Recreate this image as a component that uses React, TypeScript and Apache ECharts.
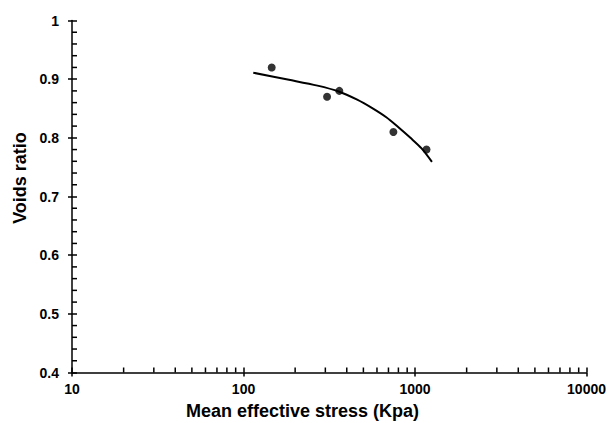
import React, { useEffect, useRef } from "react";
import * as echarts from "echarts";

// Measured points (mean effective stress kPa, voids ratio)
const stress = [146, 307, 362, 748, 1167];
const voids = [0.92, 0.87, 0.88, 0.81, 0.78];

// Fitted curve
const curveStress = [114, 184, 270, 359, 460, 560, 680, 800, 940, 1092, 1255];
const curveVoids = [0.911, 0.899, 0.889, 0.879, 0.865, 0.851, 0.835, 0.818, 0.8, 0.782, 0.759];

// Log-axis minor tick values
const xMinorTicks = [
  20, 30, 40, 50, 60, 70, 80, 90,
  200, 300, 400, 500, 600, 700, 800, 900,
  2000, 3000, 4000, 5000, 6000, 7000, 8000, 9000,
];
const yMinorTicks = [
  0.42, 0.44, 0.46, 0.48, 0.52, 0.54, 0.56, 0.58, 0.62, 0.64, 0.66, 0.68,
  0.72, 0.74, 0.76, 0.78, 0.82, 0.84, 0.86, 0.88, 0.92, 0.94, 0.96, 0.98,
];

const xTitle = "Mean effective stress (Kpa)";
const yTitle = "Voids ratio";

const FONT = "'Liberation Sans', Arial, sans-serif";

export default function App() {
  const ref = useRef<HTMLDivElement>(null);

  useEffect(() => {
    if (!ref.current) return;
    const chart = echarts.init(ref.current, undefined, { renderer: "svg" });
    const axisLine = { show: true, lineStyle: { color: "#000", width: 1.5 } };
    const label = {
      color: "#000",
      fontFamily: FONT,
      fontWeight: "bold" as const,
      fontSize: 14,
    };
    chart.setOption({
      animation: false,
      backgroundColor: "#fff",
      grid: { left: 72, right: 20, top: 20.5, bottom: 50.5, containLabel: false },
      xAxis: [
        {
          type: "log",
          logBase: 10,
          min: 10,
          max: 10000,
          position: "bottom",
          axisLine,
          axisTick: { show: true, inside: true, length: 5, lineStyle: { color: "#000", width: 1.5 } },
          axisLabel: { ...label, margin: 9, formatter: (v: number) => String(Math.round(v)) },
          splitLine: { show: false },
        },
        {
          type: "log",
          logBase: 10,
          min: 10,
          max: 10000,
          position: "bottom",
          axisLine: { show: false },
          axisTick: { show: true, inside: false, length: 4, lineStyle: { color: "#000", width: 1.5 } },
          axisLabel: { show: false },
          splitLine: { show: false },
        },
      ],
      yAxis: [
        {
          type: "value",
          min: 0.4,
          max: 1,
          interval: 0.1,
          position: "left",
          axisLine,
          axisTick: { show: true, inside: true, length: 5, lineStyle: { color: "#000", width: 1.5 } },
          axisLabel: { ...label, margin: 13, formatter: (v: number) => String(Math.round(v * 10) / 10) },
          splitLine: { show: false },
        },
        {
          type: "value",
          min: 0.4,
          max: 1,
          interval: 0.1,
          position: "left",
          axisLine: { show: false },
          axisTick: { show: true, inside: false, length: 4, lineStyle: { color: "#000", width: 1.5 } },
          axisLabel: { show: false },
          splitLine: { show: false },
        },
      ],
      graphic: [
        {
          type: "text",
          left: 306 - 120,
          top: 402,
          style: {
            text: xTitle,
            fill: "#000",
            font: `bold 18px ${FONT}`,
            width: 240,
            align: "center",
          },
        },
        {
          type: "text",
          x: 20,
          y: 178,
          rotation: Math.PI / 2,
          style: {
            text: yTitle,
            fill: "#000",
            font: `bold 18px ${FONT}`,
            textAlign: "center",
            textVerticalAlign: "middle",
          },
        },
      ],
      series: [
        {
          type: "line",
          xAxisIndex: 0,
          yAxisIndex: 0,
          data: curveStress.map((s, i) => [s, curveVoids[i]]),
          smooth: 0.3,
          showSymbol: false,
          lineStyle: { color: "#000", width: 2 },
          z: 3,
        },
        {
          type: "scatter",
          xAxisIndex: 0,
          yAxisIndex: 0,
          data: stress.map((s, i) => [s, voids[i]]),
          symbol: "circle",
          symbolSize: 8,
          itemStyle: { color: "#000" },
          z: 4,
        },
        {
          type: "custom",
          xAxisIndex: 0,
          yAxisIndex: 0,
          silent: true,
          clip: false,
          data: xMinorTicks.map((v) => [v, 0.4]),
          renderItem: (_params: any, api: any) => {
            const p = api.coord([api.value(0), api.value(1)]);
            return {
              type: "line",
              shape: { x1: p[0], y1: p[1], x2: p[0], y2: p[1] - 5 },
              style: { stroke: "#000", lineWidth: 1.5 },
            };
          },
          z: 10,
        },
        {
          type: "custom",
          xAxisIndex: 0,
          yAxisIndex: 0,
          silent: true,
          clip: false,
          data: yMinorTicks.map((v) => [20, v]),
          renderItem: (_params: any, api: any) => {
            const p = api.coord([10, api.value(1)]);
            return {
              type: "line",
              shape: { x1: p[0], y1: p[1], x2: p[0] + 5, y2: p[1] },
              style: { stroke: "#000", lineWidth: 1.5 },
            };
          },
          z: 10,
        },
      ],
    });
    return () => chart.dispose();
  }, []);

  return <div ref={ref} style={{ width: 609, height: 423, position: "absolute", left: 0, top: 0 }} />;
}
